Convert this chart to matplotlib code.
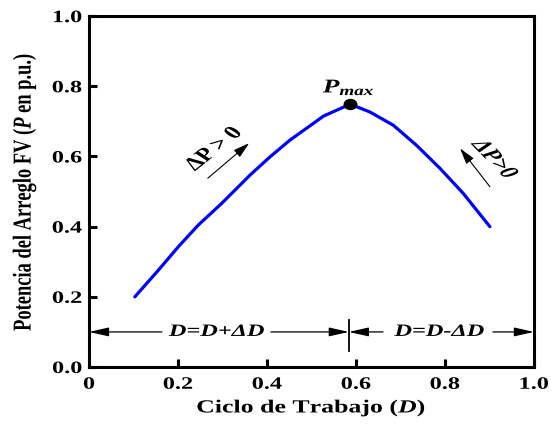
import matplotlib
matplotlib.use("Agg")
import matplotlib.pyplot as plt
from matplotlib.patheffects import AbstractPathEffect
from matplotlib.transforms import Affine2D
from matplotlib.path import Path

# Data
duty = [0.103, 0.156, 0.201, 0.246, 0.298, 0.347, 0.362, 0.407, 0.452, 0.504, 0.527, 0.557,
        0.587, 0.631, 0.684, 0.736, 0.789, 0.841, 0.901]
power = [0.200, 0.276, 0.343, 0.405, 0.466, 0.528, 0.547, 0.599, 0.647, 0.694, 0.715, 0.732,
         0.749, 0.727, 0.689, 0.632, 0.566, 0.495, 0.400]
d_peak = 0.587
p_peak = 0.749
x_ticks = [0, 0.2, 0.4, 0.6, 0.8, 1.0]
x_tick_labels = ["0", "0.2", "0.4", "0.6", "0.8", "1.0"]
y_ticks = [0.0, 0.2, 0.4, 0.6, 0.8, 1.0]
y_tick_labels = ["0.0", "0.2", "0.4", "0.6", "0.8", "1.0"]

SX = 1.4  # horizontal stretch of the text in the reference


class Stretch(AbstractPathEffect):
    def __init__(self, sx, anchor='center'):
        super().__init__()
        self.sx = sx
        self.anchor = anchor

    def draw_path(self, renderer, gc, tpath, affine, rgbFace=None):
        ext = tpath.get_extents(affine)
        if self.anchor == 'right':
            cx = ext.x1
        elif self.anchor == 'left':
            cx = ext.x0
        else:
            cx = 0.5 * (ext.x0 + ext.x1)
        new_aff = affine + Affine2D().translate(-cx, 0).scale(self.sx, 1.0).translate(cx, 0)
        renderer.draw_path(gc, tpath, new_aff, rgbFace)


plt.rcParams['font.family'] = ['Liberation Serif', 'DejaVu Serif']
plt.rcParams['font.weight'] = 'bold'
plt.rcParams['mathtext.fontset'] = 'custom'
plt.rcParams['mathtext.rm'] = 'Liberation Serif:bold'
plt.rcParams['mathtext.it'] = 'Liberation Serif:italic:bold'
plt.rcParams['mathtext.bf'] = 'Liberation Serif:bold'

fig = plt.figure(figsize=(5.51, 4.24), dpi=100)
ax = fig.add_axes([0.1615, 0.1344, 0.8075, 0.8276])

ax.plot(duty, power, color='#0000ff', lw=2.3, solid_capstyle='round', zorder=3)
ellipse = Path.unit_circle().transformed(Affine2D().scale(1.25, 1.0))
ax.plot([d_peak], [p_peak], linestyle='none', marker=ellipse, color='black', ms=9, zorder=4)

ax.set_xlim(0, 1.0)
ax.set_ylim(0, 1.0)
ax.set_xticks(x_ticks)
ax.set_xticklabels(x_tick_labels)
ax.set_yticks(y_ticks)
ax.set_yticklabels(y_tick_labels)
ax.tick_params(direction='in', length=6, width=2.2, labelsize=12.5)
ax.tick_params(axis='x', pad=7)
ax.tick_params(axis='y', pad=5)
for lab in ax.get_xticklabels():
    lab.set_fontweight('bold')
    lab.set_path_effects([Stretch(SX, 'center')])
for lab in ax.get_yticklabels():
    lab.set_fontweight('bold')
    lab.set_path_effects([Stretch(SX, 'right')])
for s in ax.spines.values():
    s.set_linewidth(2.2)

ax.set_xlabel("Ciclo de Trabajo ($D$)", fontsize=13.3, fontweight='bold')
ax.set_ylabel("Potencia del Arreglo FV ($P$ en p.u.)", fontsize=13.3, fontweight='bold')
ax.xaxis.set_label_coords(0.5, -0.117)
ax.xaxis.label.set_verticalalignment('center')
ax.yaxis.set_label_coords(-0.145, 0.5)
ax.yaxis.label.set_verticalalignment('center')
ax.xaxis.label.set_path_effects([Stretch(SX, 'center')])
ax.yaxis.label.set_path_effects([Stretch(SX, 'center')])

pe = [Stretch(SX, 'center')]

# P_max label
ax.text(d_peak - 0.003, p_peak + 0.048, r"$P_{max}$", fontsize=14, ha='center', va='center',
        path_effects=pe)

# Delta P arrows
dkw = dict(arrowstyle='-|>,head_length=0.7,head_width=0.2', color='black', lw=0.8,
           mutation_scale=14, shrinkA=0, shrinkB=0)
ax.annotate("", xy=(0.36, 0.638), xytext=(0.267, 0.538), arrowprops=dkw)
ax.text(0.281, 0.621, "ΔP > 0", fontsize=13.5, rotation=48, ha='center',
        va='center', path_effects=pe)
ax.annotate("", xy=(0.834, 0.623), xytext=(0.901, 0.514), arrowprops=dkw)
ax.text(0.91, 0.592, "ΔP>0", fontsize=13.5, style='italic', rotation=-55, ha='center',
        va='center', path_effects=pe)

# Region annotations
ya = 0.1
ax.plot([0.584, 0.584], [0.046, 0.134], color='black', lw=1.3)
akw = dict(arrowstyle='-|>,head_length=0.8,head_width=0.18', color='black', lw=0.9,
           mutation_scale=15, shrinkA=0, shrinkB=0)
ax.annotate("", xy=(0.0, ya), xytext=(0.164, ya), arrowprops=akw)
ax.annotate("", xy=(0.584, ya), xytext=(0.409, ya), arrowprops=akw)
ax.text(0.2865, ya, "D=D+ΔD", fontsize=12.5, style='italic', ha='center', va='center',
        path_effects=pe)
ax.annotate("", xy=(0.584, ya), xytext=(0.661, ya), arrowprops=akw)
ax.annotate("", xy=(1.0, ya), xytext=(0.908, ya), arrowprops=akw)
ax.text(0.787, ya, "D=D-ΔD", fontsize=12.5, style='italic', ha='center', va='center',
        path_effects=pe)

fig.savefig("out.png", dpi=100)
